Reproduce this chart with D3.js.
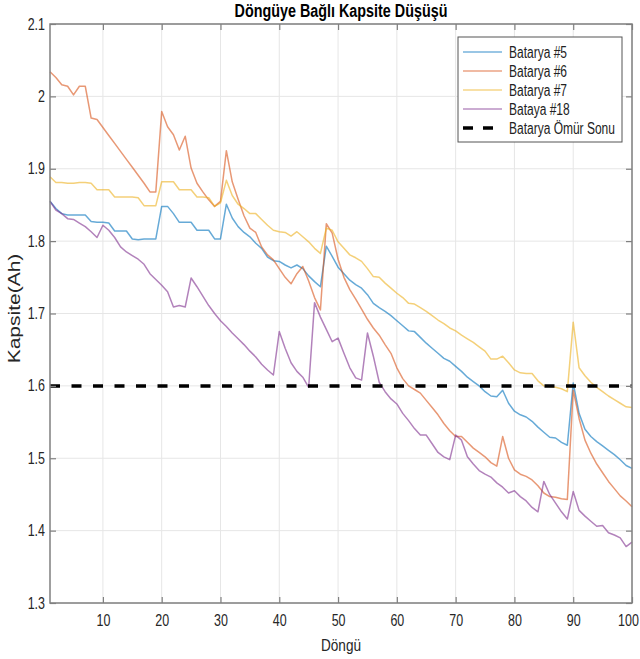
<!DOCTYPE html>
<html>
<head>
<meta charset="utf-8">
<script src="https://cdn.jsdelivr.net/npm/d3@7/dist/d3.min.js"></script>
<style>
  body { margin: 0; background: #fff; }
  text { font-family: "Liberation Sans", Arial, sans-serif; }
</style>
</head>
<body>
<svg id="chart"></svg>
<script>
// capacity per cycle (cycle = index + 1)
const bat5 = [
  1.855, 1.845, 1.838, 1.836, 1.836, 1.836, 1.836, 1.827, 1.826, 1.826,
  1.825, 1.814, 1.814, 1.814, 1.803, 1.802, 1.803, 1.803, 1.803, 1.848,
  1.848, 1.838, 1.826, 1.826, 1.826, 1.815, 1.815, 1.815, 1.803, 1.803,
  1.851, 1.832, 1.820, 1.812, 1.806, 1.797, 1.790, 1.778, 1.773, 1.772,
  1.767, 1.763, 1.767, 1.762, 1.752, 1.744, 1.737, 1.793, 1.779, 1.764,
  1.755, 1.746, 1.740, 1.735, 1.726, 1.714, 1.708, 1.703, 1.697, 1.690,
  1.683, 1.676, 1.675, 1.667, 1.659, 1.652, 1.645, 1.638, 1.634, 1.627,
  1.620, 1.612, 1.606, 1.600, 1.592, 1.586, 1.585, 1.594, 1.576, 1.565,
  1.560, 1.557, 1.551, 1.543, 1.536, 1.529, 1.528, 1.522, 1.518, 1.604,
  1.562, 1.540, 1.530, 1.523, 1.517, 1.511, 1.505, 1.498, 1.490, 1.486
];
const bat6 = [
  2.034, 2.026, 2.016, 2.014, 2.002, 2.014, 2.014, 1.970, 1.968, 1.957,
  1.946, 1.935, 1.924, 1.913, 1.902, 1.891, 1.880, 1.868, 1.868, 1.979,
  1.958, 1.947, 1.926, 1.945, 1.901, 1.880, 1.868, 1.857, 1.848, 1.855,
  1.925, 1.882, 1.858, 1.835, 1.818, 1.812, 1.792, 1.781, 1.774, 1.762,
  1.750, 1.741, 1.755, 1.765, 1.745, 1.722, 1.705, 1.824, 1.811, 1.775,
  1.750, 1.733, 1.720, 1.706, 1.692, 1.680, 1.670, 1.657, 1.645, 1.625,
  1.610, 1.600, 1.595, 1.590, 1.580, 1.570, 1.560, 1.548, 1.538, 1.530,
  1.530, 1.522, 1.514, 1.508, 1.502, 1.494, 1.489, 1.530, 1.500, 1.484,
  1.478, 1.475, 1.470, 1.462, 1.452, 1.447, 1.446, 1.444, 1.443, 1.594,
  1.555, 1.525, 1.507, 1.492, 1.480, 1.468, 1.458, 1.448, 1.441, 1.433
];
const bat7 = [
  1.889, 1.881, 1.881, 1.880, 1.880, 1.881, 1.881, 1.880, 1.871, 1.871,
  1.871, 1.861, 1.861, 1.861, 1.861, 1.860, 1.849, 1.849, 1.849, 1.882,
  1.882, 1.882, 1.871, 1.871, 1.871, 1.861, 1.861, 1.860, 1.848, 1.853,
  1.884, 1.863, 1.851, 1.845, 1.838, 1.838, 1.830, 1.822, 1.815, 1.813,
  1.812, 1.807, 1.813, 1.806, 1.799, 1.790, 1.783, 1.818, 1.815, 1.799,
  1.790, 1.781, 1.777, 1.772, 1.762, 1.751, 1.750, 1.742, 1.735, 1.728,
  1.722, 1.714, 1.713, 1.708, 1.703, 1.697, 1.691, 1.686, 1.680, 1.676,
  1.670, 1.665, 1.660, 1.654, 1.648, 1.637, 1.637, 1.641, 1.632, 1.622,
  1.618, 1.617, 1.617, 1.607, 1.600, 1.599, 1.598, 1.596, 1.592, 1.688,
  1.625, 1.614, 1.605, 1.598, 1.592, 1.586, 1.581, 1.576, 1.571, 1.570
];
const bat18 = [
  1.855, 1.843, 1.838, 1.831, 1.830, 1.825, 1.820, 1.813, 1.805, 1.822,
  1.815, 1.805, 1.792, 1.785, 1.780, 1.775, 1.768, 1.755, 1.747, 1.739,
  1.730, 1.709, 1.711, 1.709, 1.749, 1.737, 1.724, 1.711, 1.700, 1.690,
  1.682, 1.673, 1.665, 1.657, 1.648, 1.640, 1.630, 1.622, 1.615, 1.675,
  1.652, 1.632, 1.620, 1.612, 1.598, 1.715, 1.695, 1.678, 1.661, 1.666,
  1.645, 1.625, 1.611, 1.608, 1.673, 1.641, 1.605, 1.592, 1.582, 1.575,
  1.562, 1.552, 1.541, 1.532, 1.532, 1.520, 1.508, 1.502, 1.498, 1.532,
  1.525, 1.502, 1.492, 1.483, 1.478, 1.474, 1.466, 1.460, 1.452, 1.455,
  1.447, 1.441, 1.432, 1.426, 1.468, 1.450, 1.438, 1.426, 1.416, 1.454,
  1.428, 1.420, 1.413, 1.406, 1.407, 1.397, 1.394, 1.390, 1.378, 1.384
];
const endOfLife = 1.6;

const seriesNames = ['Batarya #5', 'Batarya #6', 'Batarya #7', 'Bataya #18'];
const seriesColors = ['#0072BD', '#D95319', '#EDB120', '#7E2F8E'];
const xTicks = [10, 20, 30, 40, 50, 60, 70, 80, 90, 100];
const yTicks = [1.3, 1.4, 1.5, 1.6, 1.7, 1.8, 1.9, 2, 2.1];

const W = 640, H = 659;
const margin = { top: 24, right: 8, bottom: 56, left: 50 };
const width = W - margin.left - margin.right;
const height = H - margin.top - margin.bottom;
const squeeze = 'scale(0.78,1)';

const svgEl = d3.select('#chart').attr('width', W).attr('height', H);
svgEl.append('rect').attr('width', W).attr('height', H).attr('fill', '#fff');
const svg = svgEl.append('g').attr('transform', `translate(${margin.left},${margin.top})`);

const x = d3.scaleLinear().domain([1, 100]).range([0, width]);
const y = d3.scaleLinear().domain([1.3, 2.1]).range([height, 0]);

// grid
svg.append('g').selectAll('line').data(xTicks).enter().append('line')
  .attr('x1', (d) => x(d)).attr('x2', (d) => x(d))
  .attr('y1', 0).attr('y2', height)
  .attr('stroke', '#e6e6e6').attr('stroke-width', 1);
svg.append('g').selectAll('line').data(yTicks).enter().append('line')
  .attr('x1', 0).attr('x2', width)
  .attr('y1', (d) => y(d)).attr('y2', (d) => y(d))
  .attr('stroke', '#e6e6e6').attr('stroke-width', 1);

// series
const line = d3.line().x((d, i) => x(i + 1)).y((d) => y(d));
[bat5, bat6, bat7, bat18].forEach((s, k) => {
  svg.append('path').datum(s)
    .attr('d', line)
    .attr('fill', 'none')
    .attr('stroke', seriesColors[k])
    .attr('stroke-opacity', 0.6)
    .attr('stroke-width', 1.5)
    .attr('stroke-linejoin', 'round');
});

// end-of-life line
svg.append('line')
  .attr('x1', 0).attr('x2', width)
  .attr('y1', y(endOfLife)).attr('y2', y(endOfLife))
  .attr('stroke', '#000').attr('stroke-width', 3.5)
  .attr('stroke-dasharray', '10,11.5');

// axes
const axisColor = '#808080';
function styleAxis(g, labels) {
  g.select('.domain').remove();
  g.selectAll('.tick line').attr('stroke', axisColor).attr('stroke-width', 1.2);
  if (!labels) g.selectAll('.tick text').remove();
  g.selectAll('.tick text').attr('fill', '#262626').attr('font-size', 16);
}
svg.append('g').attr('transform', `translate(0,${height})`)
  .call(d3.axisBottom(x).tickValues(xTicks).tickSize(-6).tickPadding(12).tickFormat(d3.format('d')))
  .call((g) => styleAxis(g, true));
svg.append('g')
  .call(d3.axisTop(x).tickValues(xTicks).tickSize(-6))
  .call((g) => styleAxis(g, false));
svg.append('g')
  .call(d3.axisLeft(y).tickValues(yTicks).tickSize(-6).tickPadding(5).tickFormat((d) => `${d}`))
  .call((g) => styleAxis(g, true));
svg.append('g').attr('transform', `translate(${width},0)`)
  .call(d3.axisRight(y).tickValues(yTicks).tickSize(-6))
  .call((g) => styleAxis(g, false));

svg.selectAll('.tick text').each(function (d) {
  const t = d3.select(this);
  let px = +t.attr('x') || 0;
  if (d === 100) px -= 4; // keep the last label inside the window
  t.attr('transform', `translate(${px},0) ${squeeze}`).attr('x', 0);
});

svg.append('rect')
  .attr('width', width).attr('height', height)
  .attr('fill', 'none').attr('stroke', axisColor).attr('stroke-width', 1.5);

// labels
svgEl.append('text')
  .attr('transform', `translate(${margin.left + width / 2},17) scale(0.82,1)`)
  .attr('text-anchor', 'middle').attr('font-size', 17.5).attr('font-weight', 'bold')
  .attr('fill', '#000')
  .text('Döngüye Bağlı Kapsite Düşüşü');
svgEl.append('text')
  .attr('transform', `translate(${margin.left + width / 2},651) scale(0.85,1)`)
  .attr('text-anchor', 'middle').attr('font-size', 16).attr('fill', '#262626')
  .text('Döngü');
svgEl.append('text')
  .attr('transform', `translate(20,${margin.top + height / 2 - 5}) rotate(-90) scale(1,0.75)`)
  .attr('text-anchor', 'middle').attr('font-size', 21).attr('fill', '#262626')
  .text('Kapsite(Ah)');

// legend
const legend = svgEl.append('g').attr('transform', 'translate(458,37)');
legend.append('rect')
  .attr('width', 164).attr('height', 105)
  .attr('fill', '#fff').attr('stroke', '#555').attr('stroke-width', 1);
const legendItems = seriesNames.map((n, i) => ({ name: n, color: seriesColors[i], dash: false }))
  .concat([{ name: 'Batarya Ömür Sonu', color: '#000', dash: true }]);
const rows = legend.selectAll('g.item').data(legendItems).enter().append('g')
  .attr('class', 'item')
  .attr('transform', (d, i) => `translate(0,${15 + i * 19})`);
rows.append('line')
  .attr('x1', 5).attr('x2', 44).attr('y1', 0).attr('y2', 0)
  .attr('stroke', (d) => d.color)
  .attr('stroke-opacity', (d) => (d.dash ? 1 : 0.8))
  .attr('stroke-width', (d) => (d.dash ? 3.5 : 1.2))
  .attr('stroke-dasharray', (d) => (d.dash ? '10,10' : null));
rows.append('text')
  .attr('transform', `translate(51,5.5) scale(0.75,1)`)
  .attr('font-size', 16).attr('fill', '#222')
  .text((d) => d.name);
</script>
</body>
</html>
